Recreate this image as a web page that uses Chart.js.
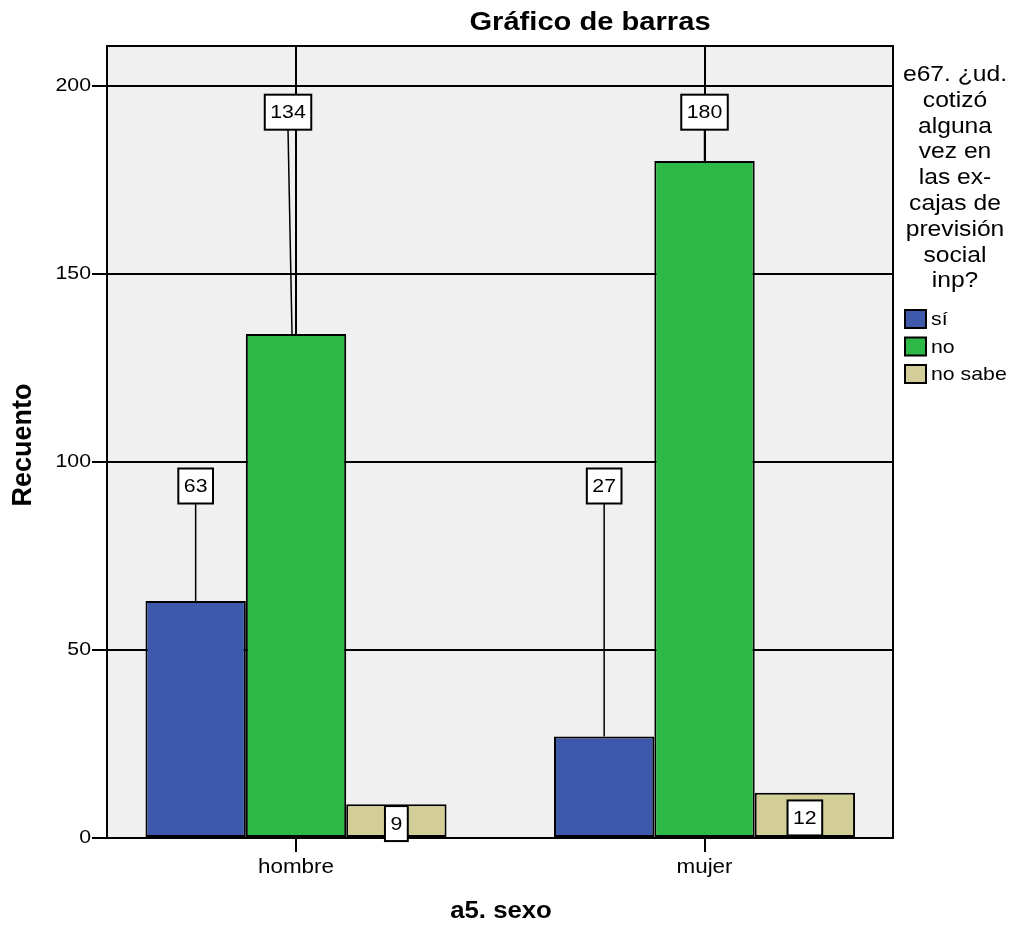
<!DOCTYPE html>
<html>
<head>
<meta charset="utf-8">
<title>Gráfico de barras</title>
<script src="https://cdn.jsdelivr.net/npm/chart.js@4.4.1/dist/chart.umd.min.js"></script>
<style>
  body { margin: 0; background: #fff; }
  canvas { display: block; }
</style>
</head>
<body>
<canvas id="chBar" width="1016" height="926"></canvas>
<script>
// values
const categories = ['hombre', 'mujer'];
const seriesNames = ['sí', 'no', 'no sabe'];
const siValues = [63, 27];
const noValues = [134, 180];
const noSabeValues = [9, 12];
const yTicks = [0, 50, 100, 150, 200];
const legendTitleLines = ['e67. ¿ud.', 'cotizó', 'alguna', 'vez en', 'las ex-', 'cajas de', 'previsión', 'social', 'inp?'];

const colors = ['#3E58AC', '#2EB848', '#D3CE97'];
const SX = 1.12; // text in the picture is a bit wide
const FONT = 'Arial, "Liberation Sans"';

function drawText(ctx, str, x, y, font, align, sx) {
    ctx.save();
    ctx.font = font;
    ctx.fillStyle = '#000';
    ctx.textAlign = align;
    ctx.textBaseline = 'middle';
    ctx.translate(x, y);
    ctx.scale(sx, 1);
    ctx.fillText(str, 0, 0);
    ctx.restore();
}

function toPoints(values) {
    return values.map((v, i) => ({ x: i, y: v }));
}

// where SPSS put the value boxes: level in axis units (null = inside the bar) and x shift
const labelLevel = [93.6, 193, null];
const labelShift = [[0, 0], [-8, 0], [0, 0]];

const sheetPlugin = {
    id: 'sheet',
    beforeDraw(chart) {
        const ctx = chart.ctx;
        const a = chart.chartArea;
        ctx.save();
        ctx.fillStyle = '#fff';
        ctx.fillRect(0, 0, chart.width, chart.height);
        ctx.fillStyle = '#F0F0F0';
        ctx.fillRect(a.left, a.top, a.right - a.left, a.bottom - a.top);
        ctx.restore();
    },
    afterDatasetsDraw(chart) {
        const ctx = chart.ctx;
        const y = chart.scales.y;
        const font = '19px ' + FONT;
        ctx.save();
        chart.data.datasets.forEach((ds, di) => {
            const meta = chart.getDatasetMeta(di);
            meta.data.forEach((bar, i) => {
                const text = String(ds.data[i].y);
                const dx = labelShift[di][i];
                const cx = bar.x + dx;
                let cy;
                if (labelLevel[di] === null) {
                    cy = (bar.y + bar.base) / 2 + 3;
                } else {
                    cy = y.getPixelForValue(labelLevel[di]);
                }
                ctx.font = font;
                const w = ctx.measureText(text).width * SX + 11;
                const h = 35;
                if (labelLevel[di] !== null) {
                    ctx.strokeStyle = '#000';
                    ctx.lineWidth = 1.5;
                    ctx.beginPath();
                    ctx.moveTo(cx, cy + h / 2);
                    ctx.lineTo(bar.x + dx / 2, bar.y);
                    ctx.stroke();
                }
                ctx.fillStyle = '#fff';
                ctx.fillRect(cx - w / 2, cy - h / 2, w, h);
                ctx.strokeStyle = '#000';
                ctx.lineWidth = 2;
                ctx.strokeRect(cx - w / 2, cy - h / 2, w, h);
                drawText(ctx, text, cx, cy + 1, font, 'center', SX);
            });
        });
        ctx.restore();
    },
    afterDraw(chart) {
        const ctx = chart.ctx;
        const a = chart.chartArea;
        const x = chart.scales.x;
        const y = chart.scales.y;

        // frame top and right
        ctx.save();
        ctx.strokeStyle = '#000';
        ctx.lineWidth = 2;
        ctx.beginPath();
        ctx.moveTo(a.left, a.top);
        ctx.lineTo(a.right, a.top);
        ctx.lineTo(a.right, a.bottom);
        ctx.stroke();
        ctx.restore();

        // tick labels
        yTicks.forEach(v => {
            drawText(ctx, String(v), 91, y.getPixelForValue(v), '19px ' + FONT, 'right', SX);
        });
        categories.forEach((c, i) => {
            drawText(ctx, c, x.getPixelForValue(i), 867, '20px ' + FONT, 'center', SX);
        });

        // titles
        drawText(ctx, 'Gráfico de barras', 590, 23, 'bold 26px ' + FONT, 'center', SX);
        drawText(ctx, 'a5. sexo', 501, 912, 'bold 23px ' + FONT, 'center', SX);
        ctx.save();
        ctx.translate(24, 445);
        ctx.rotate(-Math.PI / 2);
        drawText(ctx, 'Recuento', 0, 0, 'bold 27px ' + FONT, 'center', 1);
        ctx.restore();

        // legend
        legendTitleLines.forEach((line, i) => {
            drawText(ctx, line, 955, 75 + i * 25.8, '22px ' + FONT, 'center', SX);
        });
        seriesNames.forEach((name, i) => {
            const cy = 319 + i * 27.5;
            ctx.save();
            ctx.fillStyle = colors[i];
            ctx.fillRect(905, cy - 9, 21, 18);
            ctx.strokeStyle = '#000';
            ctx.lineWidth = 2;
            ctx.strokeRect(905, cy - 9, 21, 18);
            ctx.restore();
            drawText(ctx, name, 931, cy + 1, '19px ' + FONT, 'left', SX);
        });
    }
};

const ctx = document.getElementById('chBar').getContext('2d');
new Chart(ctx, {
    type: 'bar',
    data: {
        datasets: [
            { label: seriesNames[0], data: toPoints(siValues), backgroundColor: colors[0] },
            { label: seriesNames[1], data: toPoints(noValues), backgroundColor: colors[1] },
            { label: seriesNames[2], data: toPoints(noSabeValues), backgroundColor: colors[2] }
        ]
    },
    options: {
        responsive: false,
        animation: false,
        layout: { padding: { top: 46, right: 123, left: 0, bottom: 0 } },
        datasets: {
            bar: {
                categoryPercentage: 0.737,
                barPercentage: 1.0,
                borderColor: '#000',
                borderWidth: 2,
                borderSkipped: false
            }
        },
        plugins: {
            legend: { display: false },
            tooltip: { enabled: false },
            title: { display: false }
        },
        scales: {
            x: {
                type: 'linear',
                min: -0.4627,
                max: 1.4614,
                offset: false,
                afterBuildTicks: scale => { scale.ticks = categories.map((c, i) => ({ value: i })); },
                afterFit: scale => { scale.height = 88; },
                ticks: { display: false },
                grid: { offset: false, color: '#000', lineWidth: 2, drawTicks: true, tickLength: 14, tickColor: '#000', tickWidth: 2 },
                border: { display: true, color: '#000', width: 2 }
            },
            y: {
                min: 0,
                max: 210.6,
                afterBuildTicks: scale => { scale.ticks = yTicks.map(v => ({ value: v })); },
                afterFit: scale => { scale.width = 107; },
                ticks: { display: false },
                grid: { color: '#000', lineWidth: 2, drawTicks: true, tickLength: 15, tickColor: '#000', tickWidth: 2 },
                border: { display: true, color: '#000', width: 2 }
            }
        }
    },
    plugins: [sheetPlugin]
});
</script>
</body>
</html>
